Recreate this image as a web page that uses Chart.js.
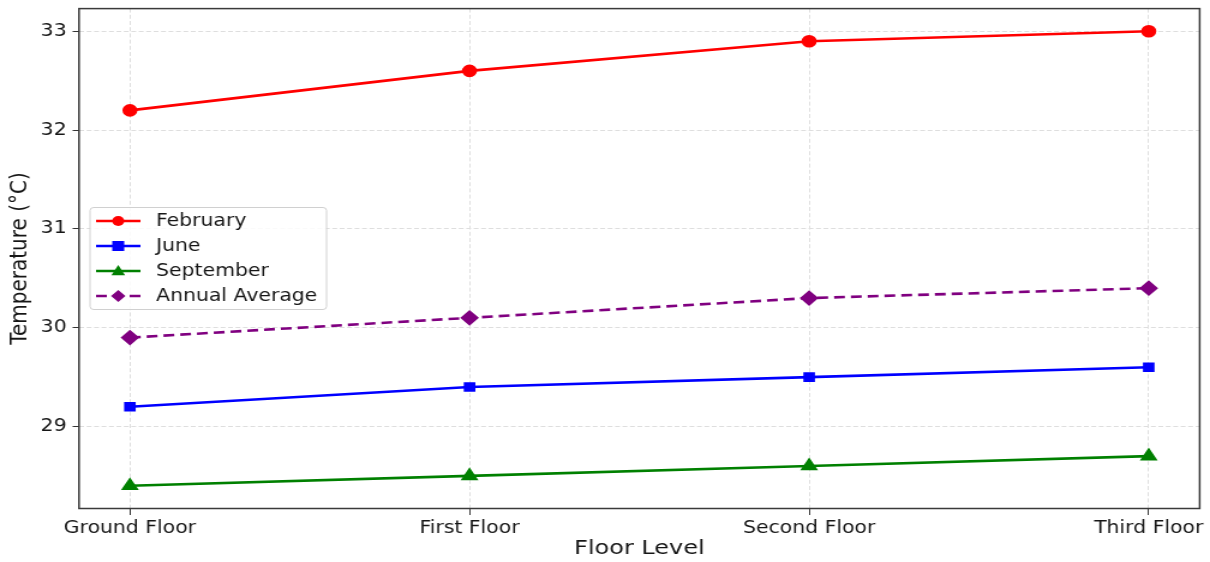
<!DOCTYPE html>
<html>
<head>
<meta charset="utf-8">
<script src="https://cdn.jsdelivr.net/npm/chart.js@4/dist/chart.umd.min.js"></script>
<style>
  html, body { margin: 0; padding: 0; background: #fff; overflow: hidden; }
  #wrap { width: 1008px; height: 562px; transform: scaleX(1.2004); transform-origin: 0 0; }
  canvas { display: block; }
</style>
</head>
<body>
<div id="wrap"><canvas id="c" width="1008" height="562"></canvas></div>
<script>
const categories = ['Ground Floor', 'First Floor', 'Second Floor', 'Third Floor'];
const february = [32.2, 32.6, 32.9, 33.0];
const june = [29.2, 29.4, 29.5, 29.6];
const september = [28.4, 28.5, 28.6, 28.7];
const annualAverage = [29.9, 30.1, 30.3, 30.4];
const yTicks = [29, 30, 31, 32, 33];

const FONT = "'DejaVu Sans', sans-serif";
const TEXT = '#161616';
const toPts = arr => arr.map((v, i) => ({ x: i, y: v }));

function drawMarker(ctx, style, x, y, r, color) {
  ctx.save();
  ctx.fillStyle = color;
  ctx.beginPath();
  if (style === 'circle') {
    ctx.arc(x, y, r, 0, Math.PI * 2);
  } else if (style === 'rect') {
    ctx.rect(x - r, y - r, 2 * r, 2 * r);
  } else if (style === 'triangle') {
    ctx.moveTo(x, y - r);
    ctx.lineTo(x + r * 0.95, y + r * 0.7);
    ctx.lineTo(x - r * 0.95, y + r * 0.7);
    ctx.closePath();
  } else if (style === 'rectRot') {
    ctx.moveTo(x, y - r);
    ctx.lineTo(x + r, y);
    ctx.lineTo(x, y + r);
    ctx.lineTo(x - r, y);
    ctx.closePath();
  }
  ctx.fill();
  ctx.restore();
}

const framePlugin = {
  id: 'frame',
  afterDatasetsDraw(chart) {
    const { ctx, chartArea: a } = chart;
    ctx.save();
    ctx.strokeStyle = '#3a3a3a';
    ctx.lineWidth = 1.5;
    ctx.strokeRect(a.left, a.top, a.right - a.left, a.bottom - a.top);
    ctx.restore();
  }
};

const legendPlugin = {
  id: 'boxLegend',
  afterDraw(chart) {
    const { ctx } = chart;
    const bx = 75, by = 207.5, bw = 197, bh = 102;
    ctx.save();
    ctx.fillStyle = 'rgba(255,255,255,0.85)';
    ctx.strokeStyle = '#d0d0d0';
    ctx.lineWidth = 1;
    ctx.beginPath();
    if (ctx.roundRect) ctx.roundRect(bx, by, bw, bh, 3); else ctx.rect(bx, by, bw, bh);
    ctx.fill();
    ctx.stroke();
    const rows = [221, 246, 271, 296];
    chart.data.datasets.forEach((ds, i) => {
      const y = rows[i];
      ctx.save();
      ctx.strokeStyle = ds.borderColor;
      ctx.lineWidth = ds.borderWidth;
      ctx.setLineDash(ds.borderDash || []);
      ctx.beginPath();
      ctx.moveTo(80, y);
      ctx.lineTo(117, y);
      ctx.stroke();
      ctx.restore();
      drawMarker(ctx, ds.pointStyle, 98.5, y, ds.pointRadius, ds.pointBackgroundColor);
      ctx.fillStyle = TEXT;
      ctx.font = "17px " + FONT;
      ctx.textBaseline = 'middle';
      ctx.textAlign = 'left';
      ctx.fillText(ds.label, 130, y + 1);
    });
    ctx.restore();
  }
};

new Chart(document.getElementById('c'), {
  type: 'line',
  data: {
    datasets: [
      { label: 'February', data: toPts(february), borderColor: '#ff0000', pointBackgroundColor: '#ff0000', pointBorderColor: '#ff0000', borderWidth: 2.6, pointStyle: 'circle', pointRadius: 5 },
      { label: 'June', data: toPts(june), borderColor: '#0000ff', pointBackgroundColor: '#0000ff', pointBorderColor: '#0000ff', borderWidth: 2.6, pointStyle: 'rect', pointRadius: 5 },
      { label: 'September', data: toPts(september), borderColor: '#008000', pointBackgroundColor: '#008000', pointBorderColor: '#008000', borderWidth: 2.6, pointStyle: 'triangle', pointRadius: 6 },
      { label: 'Annual Average', data: toPts(annualAverage), borderColor: '#800080', pointBackgroundColor: '#800080', pointBorderColor: '#800080', borderWidth: 2.6, borderDash: [9, 5], pointStyle: 'rectRot', pointRadius: 6 }
    ]
  },
  options: {
    responsive: false,
    animation: false,
    devicePixelRatio: 1,
    layout: { padding: { left: 0, top: 8, right: 7.2, bottom: 0 } },
    plugins: { legend: { display: false }, tooltip: { enabled: false }, title: { display: false } },
    elements: { line: { tension: 0 }, point: { borderWidth: 0 } },
    scales: {
      x: {
        type: 'linear',
        min: -0.15,
        max: 3.15,
        afterBuildTicks: s => { s.ticks = categories.map((c, i) => ({ value: i })); },
        afterFit: s => { s.height = 53.5; s.paddingLeft = 0; s.paddingRight = 0; },
        ticks: {
          autoSkip: false,
          maxRotation: 0,
          padding: 3,
          color: TEXT,
          font: { family: FONT, size: 17 },
          callback: v => categories[v]
        },
        grid: { color: '#dedede', lineWidth: 1, tickLength: 6.5, tickColor: '#333', tickWidth: 1 },
        border: { display: false, dash: [4, 2.2] },
        title: { display: true, text: 'Floor Level', color: TEXT, font: { family: FONT, size: 20 }, padding: { top: 0, bottom: 1 } }
      },
      y: {
        type: 'linear',
        min: 28.17,
        max: 33.23,
        afterBuildTicks: s => { s.ticks = yTicks.map(v => ({ value: v })); },
        afterFit: s => { s.width = 65.8; s.paddingTop = 0; s.paddingBottom = 0; },
        ticks: {
          padding: 5,
          color: TEXT,
          font: { family: FONT, size: 17 },
          callback: v => String(v)
        },
        grid: { color: '#dedede', lineWidth: 1, tickLength: 5.3, tickColor: '#333', tickWidth: 1 },
        border: { display: false, dash: [4, 2.2] },
        title: { display: true, text: 'Temperature (°C)', color: TEXT, font: { family: FONT, size: 20 }, padding: { top: 5, bottom: 0 } }
      }
    }
  },
  plugins: [framePlugin, legendPlugin]
});
</script>
</body>
</html>
